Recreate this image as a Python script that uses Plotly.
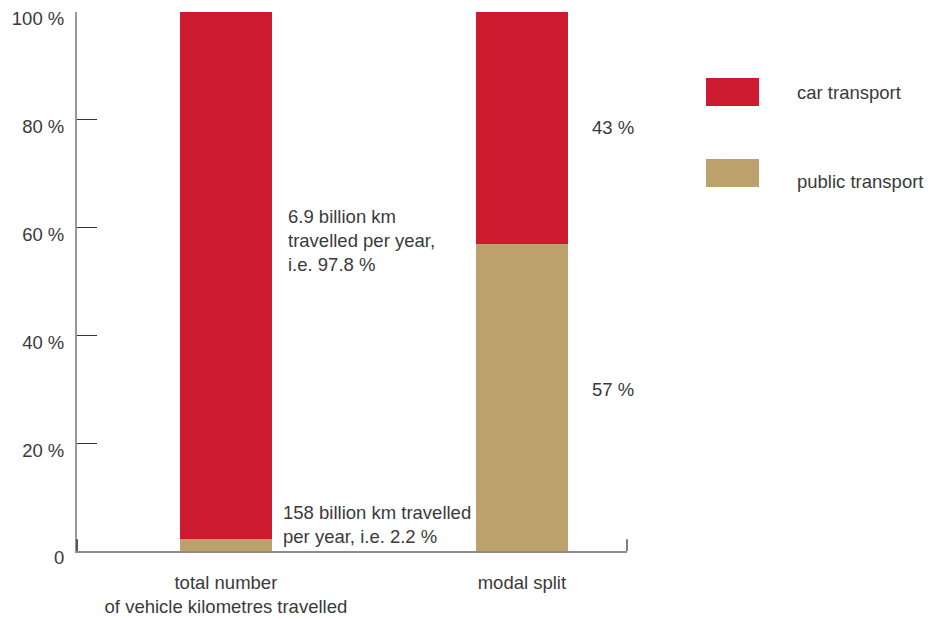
import plotly.graph_objects as go

categories = ["total number<br>of vehicle kilometres travelled", "modal split"]
public_values = [2.2, 57]
car_values = [97.8, 43]
series_names = ["car transport", "public transport"]
y_tick_vals = [0, 20, 40, 60, 80, 100]
y_tick_text = ["0", "20 %", "40 %", "60 %", "80 %", "100 %"]

RED = "#CC1A2F"
TAN = "#BCA16D"
TXT = "#3a3a3a"
FONT = "Liberation Sans"
FS = 18.5

x_idx = [0, 1]

fig = go.Figure()
fig.add_trace(go.Bar(x=x_idx, y=public_values, name=series_names[1], marker=dict(color=TAN, line=dict(width=0)),
                     width=0.311, showlegend=False))
fig.add_trace(go.Bar(x=x_idx, y=car_values, name=series_names[0], marker=dict(color=RED, line=dict(width=0)),
                     width=0.311, showlegend=False))

# page body has an 8px default margin, compensate in figure size/margins
fig.update_layout(
    barmode="stack",
    width=925, height=611,
    margin=dict(l=69, r=306, t=4, b=68, autoexpand=False),
    plot_bgcolor="white", paper_bgcolor="white",
    font=dict(family=FONT, size=FS, color=TXT),
    xaxis=dict(range=[-0.503, 1.355], tickvals=x_idx, ticktext=categories, showgrid=False,
               zeroline=False, showline=True, linecolor="#8c8c8c", linewidth=2, ticks="",
               ticklabelstandoff=14, fixedrange=True, automargin=False),
    yaxis=dict(range=[0, 100], tickvals=y_tick_vals, ticktext=y_tick_text, showgrid=False,
               zeroline=False, showline=True, linecolor="#999999", linewidth=2, ticks="",
               ticklabelstandoff=7, ticklabelshift=7, automargin=False,
               minor=dict(tickvals=[20, 40, 60, 80], ticks="inside", ticklen=20, tickwidth=1,
                          tickcolor="#333333", showgrid=False)),
)

# small end ticks on baseline
fig.add_shape(type="line", xref="paper", yref="y", x0=1, x1=1, y0=0, y1=2.2,
              line=dict(color="#555555", width=1.5))
fig.add_shape(type="line", xref="paper", yref="y", x0=0, x1=0, y0=0, y1=2.2,
              line=dict(color="#555555", width=2))

# annotations
fig.add_annotation(x=0 + 0.311 / 2, y=car_values[0] / 2 + public_values[0] + 6.5, xref="x", yref="y",
                   text="6.9 billion km<br>travelled per year,<br>i.e. 97.8 %", showarrow=False,
                   xanchor="left", yanchor="middle", align="left", xshift=14,
                   font=dict(size=FS, lineheight=1.42) if False else None)
fig.add_annotation(x=0 + 0.311 / 2, y=public_values[0] + 2.8, xref="x", yref="y",
                   text="158 billion km travelled<br>per year, i.e. 2.2 %", showarrow=False,
                   xanchor="left", yanchor="middle", align="left", xshift=9)
fig.add_annotation(x=1 + 0.311 / 2, y=public_values[1] + car_values[1] / 2, xref="x", yref="y",
                   text="43 %", showarrow=False, xanchor="left", yanchor="middle", xshift=22)
fig.add_annotation(x=1 + 0.311 / 2, y=public_values[1] / 2, xref="x", yref="y",
                   text="57 %", showarrow=False, xanchor="left", yanchor="middle", xshift=22, yshift=8)

# legend drawn manually (page pixel positions converted to plot-area fractions)
leg = [(series_names[0], RED, 78, 106, 92), (series_names[1], TAN, 159, 187, 182)]
for name, col, top, bot, ty in leg:
    fig.add_shape(type="rect", xref="paper", yref="paper",
                  x0=(706 - 77) / 550, x1=(759 - 77) / 550,
                  y0=1 - (bot - 12) / 539, y1=1 - (top - 12) / 539,
                  fillcolor=col, line=dict(width=0))
    fig.add_annotation(x=(795 - 77) / 550, y=1 - (ty - 12) / 539, xref="paper", yref="paper",
                       text=name, showarrow=False, xanchor="left", yanchor="middle")

fig.write_html("out.html")
